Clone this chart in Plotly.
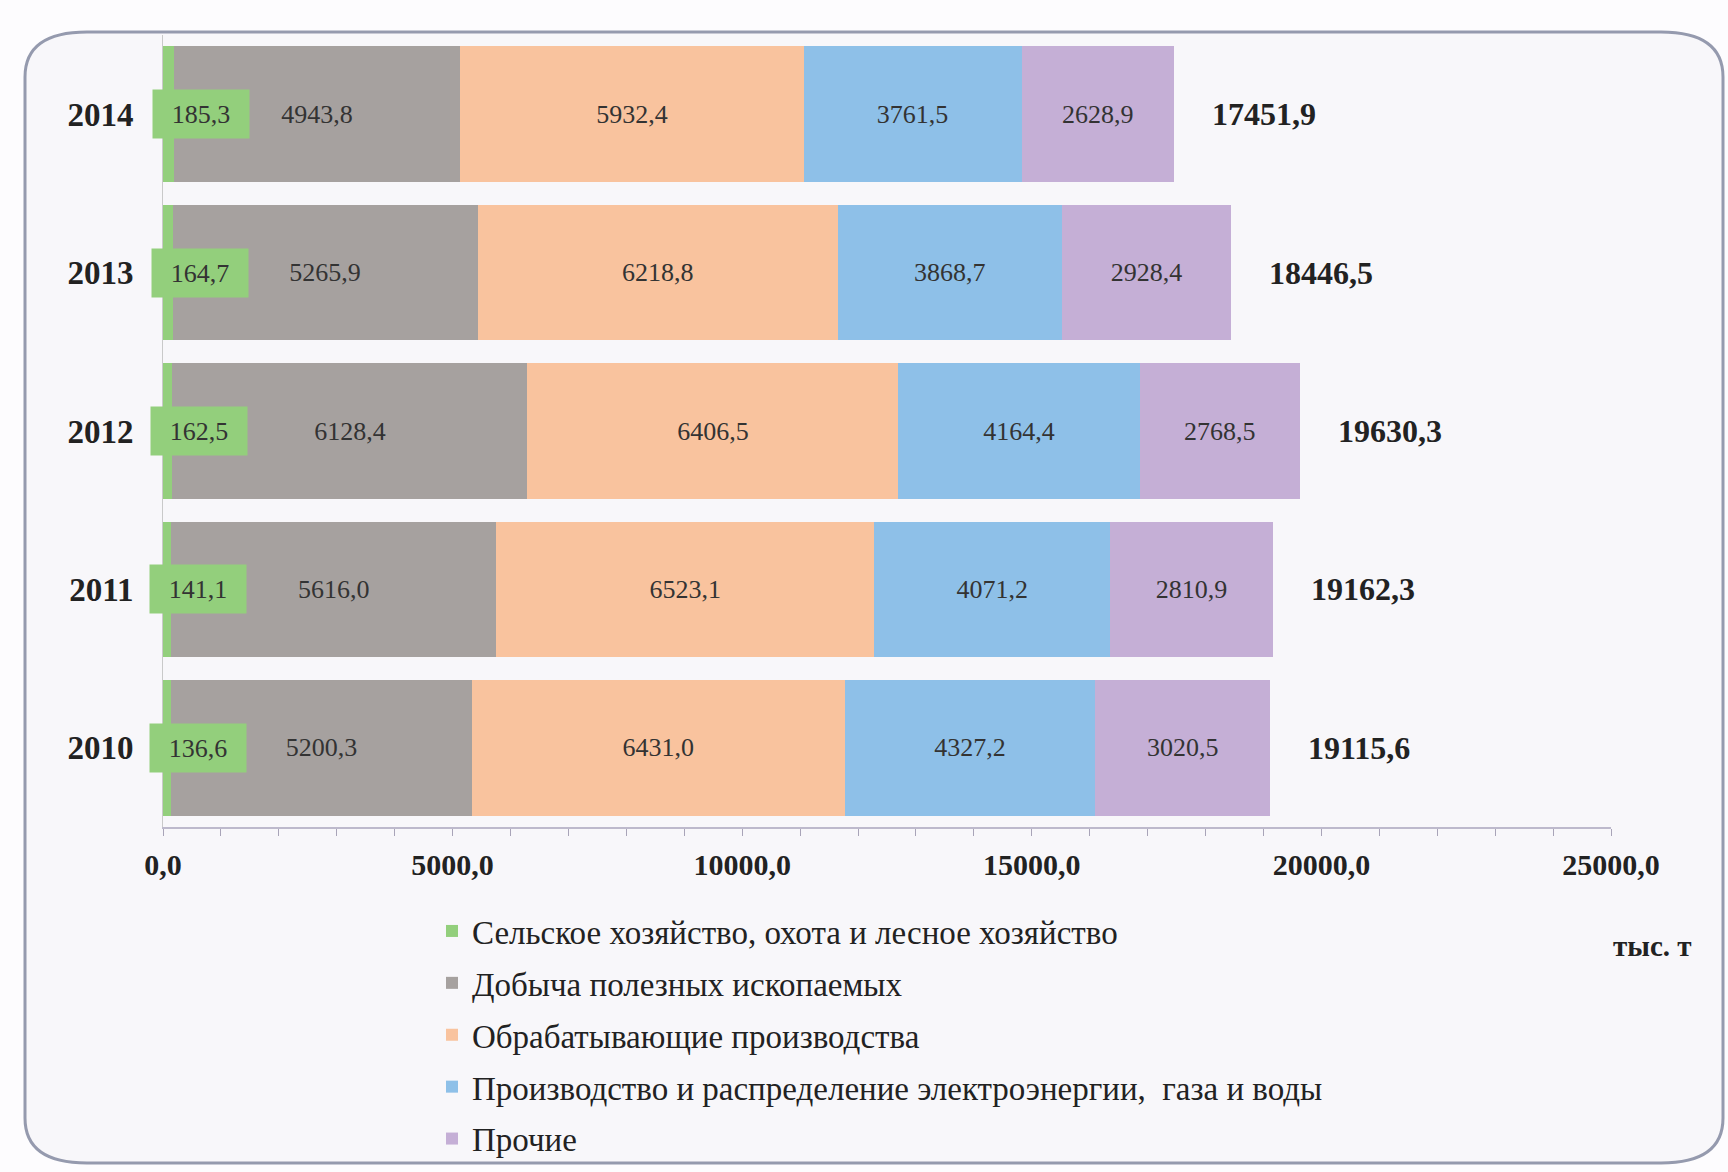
import plotly.graph_objects as go

# Emissions by sector, thousand tonnes
years = ["2010", "2011", "2012", "2013", "2014"]
agriculture = [136.6, 141.1, 162.5, 164.7, 185.3]
mining = [5200.3, 5616.0, 6128.4, 5265.9, 4943.8]
manufacturing = [6431.0, 6523.1, 6406.5, 6218.8, 5932.4]
utilities = [4327.2, 4071.2, 4164.4, 3868.7, 3761.5]
other = [3020.5, 2810.9, 2768.5, 2928.4, 2628.9]
totals = [19115.6, 19162.3, 19630.3, 18446.5, 17451.9]

series_names = [
    "Сельское хозяйство, охота и лесное хозяйство",
    "Добыча полезных ископаемых",
    "Обрабатывающие производства",
    "Производство и распределение электроэнергии,  газа и воды",
    "Прочие",
]
series_values = [agriculture, mining, manufacturing, utilities, other]
series_colors = ["#93CF7C", "#A6A19F", "#F9C39E", "#8EC0E8", "#C5AFD6"]

x_ticks = [0, 5000, 10000, 15000, 20000, 25000]
unit_label = "тыс. т"

FONT = "Liberation Serif, Times New Roman, serif"
W, H = 1728, 1172
L, R, T, B = 163, 117, 35, 345


def px_to_paper(px, py):
    """Convert page pixel position to paper coordinates of the plot area."""
    return (px - L) / (W - L - R), (H - B - py) / (H - T - B)


def rounded_frame(x0, y0, x1, y1, rx, ry):
    def p(x, y):
        a, b = px_to_paper(x, y)
        return f"{a:.5f},{b:.5f}"
    return (
        f"M {p(x0 + rx, y0)} L {p(x1 - rx, y0)} Q {p(x1, y0)} {p(x1, y0 + ry)} "
        f"L {p(x1, y1 - ry)} Q {p(x1, y1)} {p(x1 - rx, y1)} "
        f"L {p(x0 + rx, y1)} Q {p(x0, y1)} {p(x0, y1 - ry)} "
        f"L {p(x0, y0 + ry)} Q {p(x0, y0)} {p(x0 + rx, y0)} Z"
    )


fig = go.Figure()

for i, (name, vals, color) in enumerate(zip(series_names, series_values, series_colors)):
    labelled = i > 0
    fig.add_trace(go.Bar(
        y=years, x=vals, orientation="h", name=name,
        marker=dict(color=color, line=dict(width=0)),
        legendgroup=f"g{i}",
        texttemplate="%{x:.1f}" if labelled else None,
        textposition="inside" if labelled else "none",
        insidetextanchor="middle",
        textangle=0,
        textfont=dict(family=FONT, size=26, color="#333333"),
        hoverinfo="skip",
    ))

annotations = []
# small agriculture values get a highlighted label box
for row, v in enumerate(agriculture):
    annotations.append(dict(
        x=v, y=row, xref="x", yref="y", text=f"{v:.1f}".replace(".", ","),
        showarrow=False, xanchor="left", xshift=-22,
        bgcolor="#93CF7C", borderpad=9, width=78, height=30,
        font=dict(family=FONT, size=26, color="#333333"),
    ))
# bar totals
for row, t in enumerate(totals):
    annotations.append(dict(
        x=t, y=row, xref="x", yref="y", text=f"{t:.1f}".replace(".", ","),
        showarrow=False, xanchor="left", xshift=36,
        font=dict(family=FONT, size=32, color="#222222", weight="bold"),
    ))
ux, uy = px_to_paper(1653, 946)
annotations.append(dict(
    x=ux, y=uy, xref="paper", yref="paper", text=unit_label,
    showarrow=False, xanchor="center", yanchor="middle",
    font=dict(family=FONT, size=29, color="#222222", weight="bold"),
))

lx, ly = px_to_paper(432, 903)

fig.update_layout(
    width=W, height=H, autosize=False,
    margin=dict(l=L, r=R, t=T, b=B, pad=0, autoexpand=False),
    barmode="stack", bargap=0.145,
    separators=",.",
    paper_bgcolor="#FDFCFE", plot_bgcolor="rgba(0,0,0,0)",
    font=dict(family=FONT, color="#222222"),
    showlegend=True,
    legend=dict(
        x=lx, y=ly, xanchor="left", yanchor="top",
        orientation="v", traceorder="grouped", tracegroupgap=6,
        font=dict(family=FONT, size=33, color="#222222"),
        bgcolor="rgba(0,0,0,0)", itemclick=False, itemdoubleclick=False,
    ),
    xaxis=dict(
        range=[0, 25000], tickvals=x_ticks, tickformat=".1f",
        showgrid=False, zeroline=False,
        showline=True, linecolor="#BDB9CC", linewidth=2,
        ticks="outside", ticklen=7, tickcolor="#A9A4B8", tickwidth=1,
        minor=dict(dtick=1000, ticks="outside", ticklen=7, tickcolor="#A9A4B8"),
        tickfont=dict(family=FONT, size=30, color="#222222", weight="bold"),
        ticklabelstandoff=3,
        fixedrange=True,
    ),
    yaxis=dict(
        type="category", categoryorder="array", categoryarray=years,
        range=[-0.5, len(years) - 0.5], autorange=False,
        showgrid=False, zeroline=False,
        showline=True, linecolor="#C9C9C9", linewidth=1,
        ticks="", ticklabelstandoff=22,
        tickfont=dict(family=FONT, size=33, color="#222222", weight="bold"),
        fixedrange=True,
    ),
    annotations=annotations,
    shapes=[dict(
        type="path", xref="paper", yref="paper", layer="below",
        path=rounded_frame(25, 32, 1723, 1163, 62, 45),
        fillcolor="#F8F7FA", line=dict(color="#959AAE", width=3),
    )],
)

fig.write_html("out.html")
